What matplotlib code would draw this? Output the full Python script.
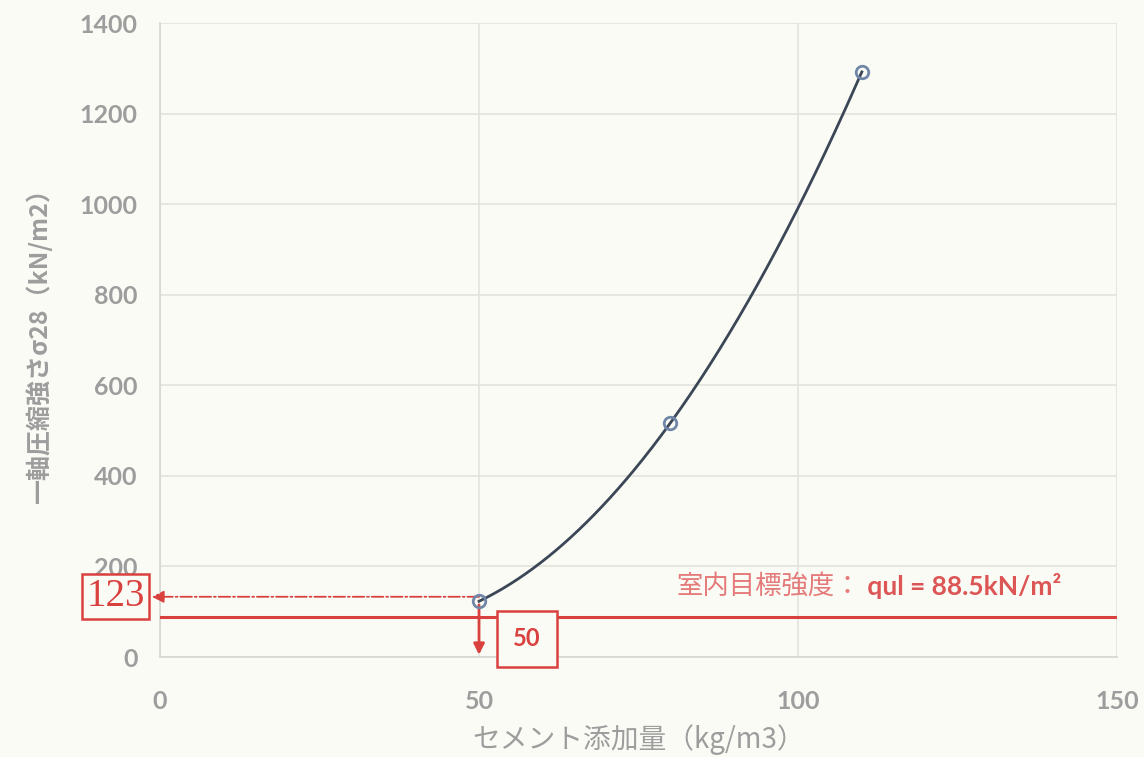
import matplotlib.pyplot as plt
import numpy as np

plt.rcParams['font.family'] = ['Noto Sans CJK JP', 'DejaVu Sans']

# data
cement = [50, 80, 110]          # kg/m3
strength = [123, 517, 1292]     # kN/m2
target_q = 88.5
read_x, read_y = 50, 123

x_ticks = [0, 50, 100, 150]
y_ticks = [0, 200, 400, 600, 800, 1000, 1200, 1400]

gray = '#9d9d9d'
red = '#d9413f'

fig = plt.figure(figsize=(11.44, 7.57), dpi=100, facecolor='#fbfbf6')
ax = fig.add_axes([0.1399, 0.1321, 0.8365, 0.8375])
ax.set_facecolor('#fbfbf6')

# smooth curve through the points (quadratic through the three points)
coef = np.polyfit(cement, strength, 2)
xs = np.linspace(cement[0], cement[-1], 200)
ax.plot(xs, np.polyval(coef, xs), color='#3b4656', lw=2, zorder=4)
ax.plot(cement, strength, 'o', ms=9, mfc='none', mec='#6f86a8', mew=2, zorder=5)

# target strength line
ax.axhline(target_q, color=red, lw=2.2, zorder=3)
t1 = ax.text(81, 127, '室内目標強度：', color='#e47a7a', fontsize=19, ha='left', va='bottom',
             family=['Noto Sans CJK JP', 'DejaVu Sans'])
ax.annotate(' qul = 88.5kN/m²', xy=(1, 0), xycoords=t1, color='#dc5656', fontsize=19,
            fontweight='bold', ha='left', va='bottom', family=['Lato', 'DejaVu Sans'])

# read-off arrows
ax.annotate('', xy=(-1.3, read_y + 10), xytext=(read_x, read_y + 10), annotation_clip=False,
            arrowprops=dict(arrowstyle='-|>', color=red, lw=1.3, linestyle='-.',
                            mutation_scale=18, shrinkA=0, shrinkB=0), zorder=4)
ax.annotate('', xy=(read_x, 5), xytext=(read_x, read_y - 8),
            arrowprops=dict(arrowstyle='-|>', color=red, lw=2, mutation_scale=16,
                            shrinkA=0, shrinkB=0), zorder=4)

ax.text(-2.4, read_y + 10, str(read_y), color=red, fontsize=28, ha='right', va='center',
        family='Liberation Serif', clip_on=False,
        bbox=dict(boxstyle='square,pad=0.1', fc='#fbfbf6', ec=red, lw=1.8))
ax.text(57.5, 40, str(read_x), color=red, fontsize=17, fontweight='bold', ha='center',
        va='center', family=['Lato', 'DejaVu Sans'],
        bbox=dict(boxstyle='square,pad=0.7', fc='#fbfbf6', ec=red, lw=1.8))

ax.set_xlim(0, 150)
ax.set_ylim(0, 1400)
ax.set_xticks(x_ticks)
ax.set_yticks(y_ticks)
ax.grid(True, color='#e3e3de', lw=1.2)
ax.set_axisbelow(True)
for s in ['top', 'right']:
    ax.spines[s].set_visible(False)
for s in ['left', 'bottom']:
    ax.spines[s].set_color('#d6d6d2')
    ax.spines[s].set_linewidth(1.2)
ax.tick_params(length=0, colors=gray)
ax.tick_params(axis='x', pad=24)
ax.tick_params(axis='y', pad=16)
for lab in ax.get_xticklabels() + ax.get_yticklabels():
    lab.set_fontsize(18)
    lab.set_fontweight('bold')
    lab.set_family(['Lato', 'DejaVu Sans'])

ax.set_xlabel('セメント添加量（kg/m3）', color=gray, fontsize=20, labelpad=8)
ax.set_ylabel('一軸圧縮強さσ28（kN/m2）', color=gray, fontsize=18, fontweight='bold', labelpad=20)

plt.savefig('out.png', dpi=100, facecolor=fig.get_facecolor())
